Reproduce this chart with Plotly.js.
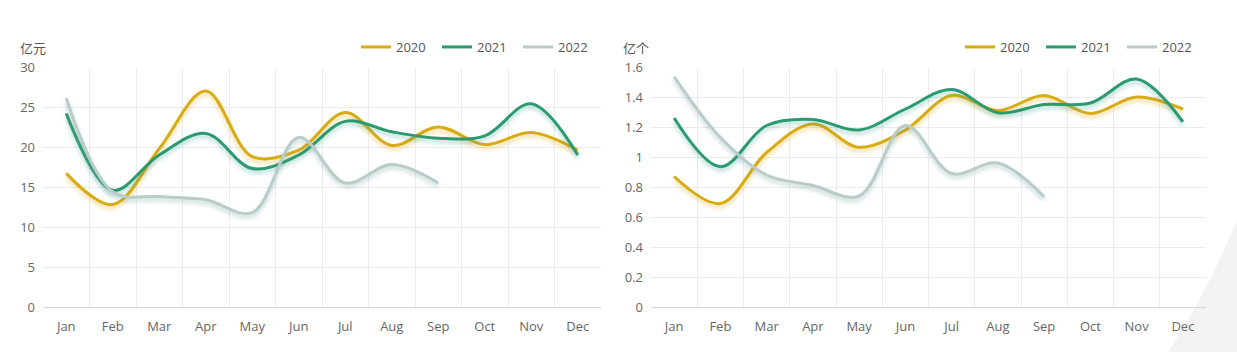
<!DOCTYPE html>
<html>
<head>
<meta charset="utf-8">
<script src="https://cdn.plot.ly/plotly-3.0.1.min.js"></script>
<style>
html,body{margin:0;padding:0;background:#fff;}
#chart{width:1237px;height:352px;}
</style>
</head>
<body>
<div id="chart"></div>
<script>
const months = ["Jan","Feb","Mar","Apr","May","Jun","Jul","Aug","Sep","Oct","Nov","Dec"];
const seriesNames = ["2020","2021","2022"];

// Left chart: 亿元
const amount2020 = [16.7, 12.8, 19.8, 27.0, 18.8, 19.6, 24.3, 20.2, 22.5, 20.3, 21.8, 19.6];
const amount2021 = [24.2, 14.6, 19.0, 21.7, 17.3, 19.0, 23.2, 21.9, 21.1, 21.4, 25.4, 19.0];
const amount2022 = [26.1, 14.4, 13.8, 13.4, 11.8, 21.2, 15.5, 17.8, 15.5];

// Right chart: 亿个
const count2020 = [0.87, 0.69, 1.03, 1.22, 1.065, 1.18, 1.41, 1.31, 1.41, 1.29, 1.40, 1.32];
const count2021 = [1.26, 0.935, 1.21, 1.25, 1.18, 1.32, 1.45, 1.295, 1.35, 1.36, 1.52, 1.235];
const count2022 = [1.535, 1.13, 0.88, 0.81, 0.74, 1.21, 0.89, 0.96, 0.735];

const unitLeft = "亿元";
const unitRight = "亿个";

const colors = ["#d9ab12", "#2b9a6e", "#b9ccc8"];
const shadowColors = ["rgba(217,171,18,0.45)", "rgba(43,154,150,0.40)", "rgba(120,160,165,0.45)"];

const FONT = "'Open Sans', 'Noto Sans CJK SC', sans-serif";

function mk(y, i, xa, ya, leg) {
  return {
    x: months.slice(0, y.length), y: y, type: "scatter", mode: "lines",
    name: seriesNames[i], xaxis: xa, yaxis: ya, legend: leg,
    line: {color: colors[i], width: 3, shape: "spline", smoothing: 1.0},
    hoverinfo: "x+y+name"
  };
}

const data = [
  mk(amount2020, 0, "x", "y", "legend"),
  mk(amount2021, 1, "x", "y", "legend"),
  mk(amount2022, 2, "x", "y", "legend"),
  mk(count2020, 0, "x2", "y2", "legend2"),
  mk(count2021, 1, "x2", "y2", "legend2"),
  mk(count2022, 2, "x2", "y2", "legend2")
];

const W = 1237, H = 352, ML = 43, MR = 31, MT = 67, MB = 45;
const PW = W - ML - MR, PH = H - MT - MB;
function px(x){ return (x - ML) / PW; }
function py(y){ return (H - MB - y) / PH; }

const xCommon = {
  type: "category", range: [-0.5, 11.5], tickson: "boundaries",
  showgrid: true, gridcolor: "#ececec", gridwidth: 1,
  showline: true, linecolor: "#d6d6d6", linewidth: 1,
  ticks: "", ticklabelstandoff: 7,
  tickfont: {family: FONT, size: 13, color: "#666"},
  zeroline: false, fixedrange: true
};
const yCommon = {
  showgrid: true, gridcolor: "#ececec", gridwidth: 1,
  showline: false, zeroline: false, ticks: "", ticklabelstandoff: 7,
  tickfont: {family: FONT, size: 13, color: "#666"}, fixedrange: true
};

const bgPath = `M ${px(1240)},${py(212)} C ${px(1224)},${py(255)} ${px(1196)},${py(310)} ${px(1168)},${py(352)} L ${px(1240)},${py(352)} Z`;

const legendFont = {family: FONT, size: 13, color: "#555"};

const layout = {
  width: W, height: H,
  margin: {l: ML, r: MR, t: MT, b: MB, autoexpand: false},
  paper_bgcolor: "rgba(0,0,0,0)", plot_bgcolor: "rgba(0,0,0,0)",
  font: {family: FONT, color: "#555"},
  xaxis: Object.assign({}, xCommon, {domain: [0, px(601)], anchor: "y"}),
  yaxis: Object.assign({}, yCommon, {range: [0, 30], dtick: 5, anchor: "x"}),
  xaxis2: Object.assign({}, xCommon, {domain: [px(651), 1], anchor: "y2"}),
  yaxis2: Object.assign({}, yCommon, {range: [0, 1.6], dtick: 0.2, anchor: "x2"}),
  legend: {orientation: "h", x: px(356), xanchor: "left", y: py(47), yanchor: "middle",
    font: legendFont, bgcolor: "rgba(0,0,0,0)", itemwidth: 30, entrywidth: 36, entrywidthmode: "pixels"},
  legend2: {orientation: "h", x: px(960), xanchor: "left", y: py(47), yanchor: "middle",
    font: legendFont, bgcolor: "rgba(0,0,0,0)", itemwidth: 30, entrywidth: 36, entrywidthmode: "pixels"},
  annotations: [
    {text: unitLeft, xref: "paper", yref: "paper", x: px(33), y: py(48), xanchor: "center", yanchor: "middle",
     showarrow: false, font: {family: FONT, size: 13, color: "#555"}},
    {text: unitRight, xref: "paper", yref: "paper", x: px(636), y: py(48), xanchor: "center", yanchor: "middle",
     showarrow: false, font: {family: FONT, size: 13, color: "#555"}}
  ],
  shapes: [
    {type: "path", xref: "paper", yref: "paper", path: bgPath, fillcolor: "#f3f3f3", line: {width: 0}, layer: "below"}
  ],
  showlegend: true
};

Plotly.newPlot("chart", data, layout, {displayModeBar: false, staticPlot: true}).then(function(gd){
  const traces = gd.querySelectorAll(".scatterlayer .trace");
  traces.forEach(function(t, i){
    const p = t.querySelector("path.js-line");
    if (p) p.style.filter = "drop-shadow(0px 3px 2px " + shadowColors[i % 3] + ")";
  });
});
</script>
</body>
</html>
